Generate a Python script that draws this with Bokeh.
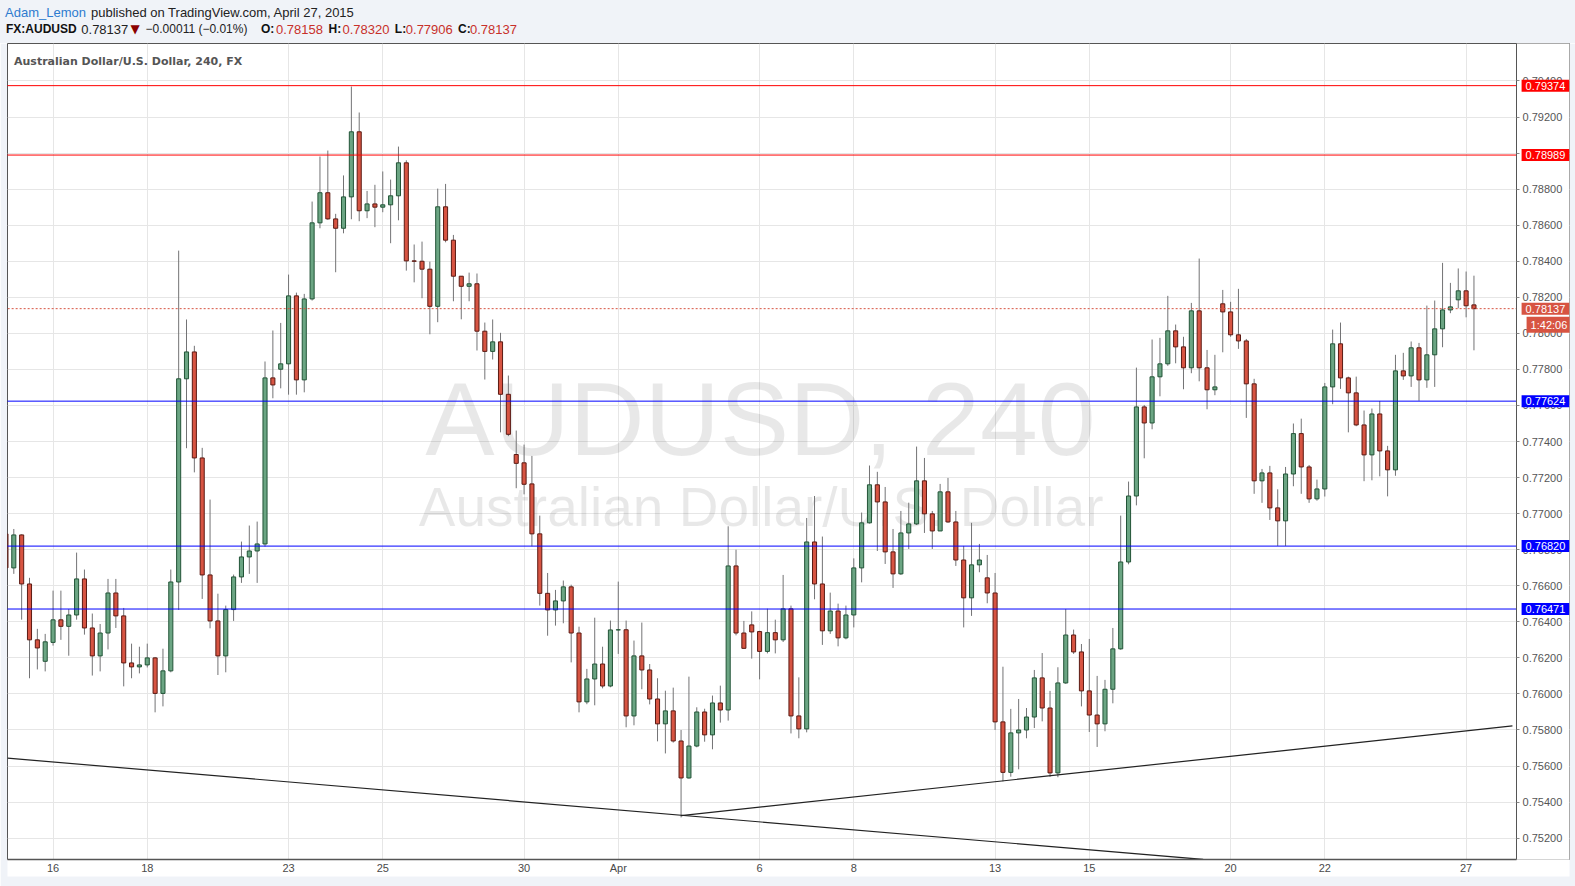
from bokeh.plotting import figure
from bokeh.layouts import column
from bokeh.models import Range1d, FixedTicker, PrintfTickFormatter, Label, Div
from bokeh.core.properties import value
from bokeh.embed import file_html
from bokeh.resources import INLINE
import numpy as np

# ---------------- data (AUDUSD 4h candles) ----------------
first_index = -1
opens = [0.76888, 0.76699, 0.76882, 0.76610, 0.76300, 0.76181, 0.76286, 0.76411, 0.76375, 0.76438,
         0.76638, 0.76366, 0.76211, 0.76338, 0.76560, 0.76433, 0.76172, 0.76150, 0.76161, 0.76200,
         0.76003, 0.76128, 0.76621, 0.77748, 0.77897, 0.77309, 0.76660, 0.76405, 0.76211, 0.76468,
         0.76649, 0.76760, 0.76793, 0.76832, 0.77753, 0.77801, 0.77831, 0.78208, 0.77742, 0.78191,
         0.78613, 0.78780, 0.78635, 0.78583, 0.78757, 0.79118, 0.78680, 0.78718, 0.78700, 0.78713,
         0.78763, 0.78946, 0.78402, 0.78400, 0.78356, 0.78150, 0.78702, 0.78517, 0.78317, 0.78261,
         0.78275, 0.78012, 0.77900, 0.77953, 0.77662, 0.77328, 0.77282, 0.77165, 0.76888, 0.76558,
         0.76466, 0.76516, 0.76594, 0.76338, 0.75956, 0.76083, 0.76166, 0.76044, 0.76355, 0.76356,
         0.75878, 0.76211, 0.76133, 0.75972, 0.75834, 0.75906, 0.75739, 0.75534, 0.75711, 0.75900,
         0.75773, 0.75950, 0.75911, 0.76710, 0.76338, 0.76383, 0.76346, 0.76236, 0.76340, 0.76300,
         0.76472, 0.75878, 0.75806, 0.76843, 0.76610, 0.76350, 0.76460, 0.76311, 0.76438, 0.76699,
         0.76949, 0.77160, 0.77065, 0.76788, 0.76666, 0.76893, 0.76943, 0.77182, 0.76999, 0.76904,
         0.77121, 0.76954, 0.76743, 0.76533, 0.76716, 0.76644, 0.76560, 0.75845, 0.75565, 0.75784,
         0.75800, 0.75872, 0.76089, 0.75922, 0.75562, 0.76061, 0.76327, 0.76233, 0.76017, 0.75883,
         0.75834, 0.76026, 0.76250, 0.76732, 0.77098, 0.77592, 0.77503, 0.77759, 0.77831, 0.78014,
         0.77925, 0.77809, 0.78125, 0.77809, 0.77687, 0.78164, 0.78119, 0.77992, 0.77958, 0.77720,
         0.77182, 0.77226, 0.77032, 0.76960, 0.77220, 0.77444, 0.77259, 0.77082, 0.77137, 0.77703,
         0.77942, 0.77753, 0.77670, 0.77492, 0.77326, 0.77553, 0.77348, 0.77243, 0.77792, 0.77764,
         0.77920, 0.77742, 0.77881, 0.78025, 0.78130, 0.78186, 0.78236, 0.78158]
highs = [0.76900, 0.76915, 0.76885, 0.76644, 0.76361, 0.76333, 0.76573, 0.76573, 0.76471, 0.76784,
         0.76690, 0.76446, 0.76388, 0.76638, 0.76638, 0.76477, 0.76279, 0.76262, 0.76279, 0.76205,
         0.76251, 0.76690, 0.78459, 0.78077, 0.77931, 0.77365, 0.77078, 0.76556, 0.76490, 0.76662,
         0.76845, 0.76934, 0.76956, 0.77844, 0.78016, 0.78058, 0.78326, 0.78226, 0.78219, 0.78731,
         0.78981, 0.79014, 0.78663, 0.78876, 0.79369, 0.79225, 0.78790, 0.78824, 0.78898, 0.78853,
         0.79036, 0.78960, 0.78493, 0.78509, 0.78398, 0.78803, 0.78829, 0.78546, 0.78317, 0.78337,
         0.78332, 0.78060, 0.78077, 0.78003, 0.77766, 0.77461, 0.77383, 0.77320, 0.76989, 0.76671,
         0.76577, 0.76629, 0.76606, 0.76373, 0.76139, 0.76423, 0.76262, 0.76407, 0.76623, 0.76407,
         0.76296, 0.76396, 0.76166, 0.76087, 0.76018, 0.76035, 0.75800, 0.76096, 0.75926, 0.75918,
         0.75991, 0.76046, 0.76930, 0.76800, 0.76405, 0.76458, 0.76350, 0.76473, 0.76412, 0.76660,
         0.76490, 0.76092, 0.76976, 0.77098, 0.76873, 0.76562, 0.76501, 0.76490, 0.76752, 0.77006,
         0.77267, 0.77232, 0.77148, 0.76915, 0.77015, 0.77061, 0.77372, 0.77309, 0.77015, 0.77165,
         0.77198, 0.77015, 0.76821, 0.76949, 0.76832, 0.76771, 0.76671, 0.76151, 0.75917, 0.75972,
         0.75922, 0.76133, 0.76227, 0.76017, 0.76148, 0.76471, 0.76357, 0.76277, 0.76305, 0.76100,
         0.76078, 0.76366, 0.76989, 0.77178, 0.77810, 0.77603, 0.77966, 0.77975, 0.78208, 0.78049,
         0.77981, 0.78169, 0.78415, 0.77908, 0.77881, 0.78241, 0.78175, 0.78247, 0.77969, 0.77748,
         0.77248, 0.77265, 0.77135, 0.77259, 0.77500, 0.77527, 0.77270, 0.77189, 0.77725, 0.78021,
         0.78060, 0.77760, 0.77760, 0.77572, 0.77583, 0.77625, 0.77376, 0.77881, 0.77892, 0.77955,
         0.77947, 0.78154, 0.78182, 0.78391, 0.78280, 0.78360, 0.78343, 0.78320]
lows = [0.76680, 0.76666, 0.76412, 0.76087, 0.76136, 0.76125, 0.76268, 0.76300, 0.76212, 0.76412,
        0.76329, 0.76102, 0.76125, 0.76247, 0.76366, 0.76042, 0.76087, 0.76114, 0.76147, 0.75898,
        0.75931, 0.76120, 0.76466, 0.77363, 0.77229, 0.76527, 0.76364, 0.76105, 0.76120, 0.76405,
        0.76616, 0.76666, 0.76616, 0.76817, 0.77640, 0.77695, 0.77660, 0.77660, 0.77673, 0.78182,
        0.78583, 0.78630, 0.78339, 0.78555, 0.78633, 0.78622, 0.78639, 0.78589, 0.78672, 0.78500,
        0.78627, 0.78348, 0.78283, 0.78195, 0.77995, 0.78062, 0.78505, 0.78178, 0.78078, 0.78178,
        0.77905, 0.77744, 0.77855, 0.77451, 0.77430, 0.77141, 0.77107, 0.76819, 0.76490, 0.76323,
        0.76379, 0.76392, 0.76175, 0.75898, 0.75943, 0.75937, 0.76031, 0.76037, 0.76222, 0.75815,
        0.75826, 0.76026, 0.75942, 0.75737, 0.75670, 0.75730, 0.75315, 0.75530, 0.75704, 0.75735,
        0.75693, 0.75841, 0.75852, 0.76325, 0.76251, 0.76196, 0.76081, 0.76225, 0.76225, 0.76288,
        0.75781, 0.75754, 0.75787, 0.76525, 0.76272, 0.76333, 0.76264, 0.76303, 0.76369, 0.76619,
        0.76945, 0.76793, 0.76721, 0.76588, 0.76660, 0.76804, 0.76937, 0.76893, 0.76804, 0.76904,
        0.76949, 0.76710, 0.76369, 0.76433, 0.76675, 0.76503, 0.75800, 0.75515, 0.75541, 0.75582,
        0.75754, 0.75811, 0.75848, 0.75540, 0.75538, 0.76056, 0.76222, 0.75931, 0.75789, 0.75706,
        0.75793, 0.75948, 0.76245, 0.76719, 0.77046, 0.77307, 0.77468, 0.77651, 0.77820, 0.77834,
        0.77690, 0.77779, 0.77734, 0.77579, 0.77657, 0.77895, 0.77981, 0.77914, 0.77531, 0.77110,
        0.77060, 0.76965, 0.76821, 0.76821, 0.77152, 0.77110, 0.77060, 0.77072, 0.77095, 0.77607,
        0.77692, 0.77451, 0.77485, 0.77180, 0.77185, 0.77207, 0.77096, 0.77210, 0.77742, 0.77703,
        0.77626, 0.77698, 0.77703, 0.77923, 0.78112, 0.78139, 0.78089, 0.77906]
closes = [0.76699, 0.76882, 0.76610, 0.76300, 0.76255, 0.76289, 0.76411, 0.76375, 0.76438, 0.76638,
          0.76366, 0.76211, 0.76338, 0.76560, 0.76433, 0.76172, 0.76150, 0.76161, 0.76200, 0.76003,
          0.76128, 0.76621, 0.77748, 0.77897, 0.77309, 0.76660, 0.76405, 0.76211, 0.76468, 0.76649,
          0.76760, 0.76793, 0.76832, 0.77753, 0.77714, 0.77831, 0.78208, 0.77742, 0.78191, 0.78613,
          0.78780, 0.78635, 0.78583, 0.78757, 0.79118, 0.78680, 0.78718, 0.78700, 0.78713, 0.78763,
          0.78946, 0.78402, 0.78400, 0.78356, 0.78150, 0.78702, 0.78517, 0.78317, 0.78261, 0.78275,
          0.78012, 0.77900, 0.77953, 0.77662, 0.77440, 0.77279, 0.77163, 0.76888, 0.76558, 0.76466,
          0.76516, 0.76594, 0.76338, 0.75956, 0.76083, 0.76166, 0.76044, 0.76355, 0.76356, 0.75878,
          0.76211, 0.76133, 0.75972, 0.75834, 0.75906, 0.75739, 0.75534, 0.75711, 0.75900, 0.75773,
          0.75950, 0.75911, 0.76710, 0.76338, 0.76253, 0.76344, 0.76236, 0.76340, 0.76300, 0.76472,
          0.75878, 0.75806, 0.76843, 0.76610, 0.76350, 0.76460, 0.76311, 0.76438, 0.76699, 0.76949,
          0.77160, 0.77065, 0.76788, 0.76666, 0.76893, 0.76943, 0.77182, 0.76999, 0.76904, 0.77121,
          0.76954, 0.76743, 0.76533, 0.76716, 0.76743, 0.76560, 0.75845, 0.75565, 0.75784, 0.75800,
          0.75872, 0.76089, 0.75922, 0.75562, 0.76061, 0.76327, 0.76233, 0.76017, 0.75883, 0.75834,
          0.76026, 0.76250, 0.76732, 0.77098, 0.77592, 0.77503, 0.77759, 0.77831, 0.78014, 0.77925,
          0.77809, 0.78125, 0.77809, 0.77687, 0.77703, 0.78119, 0.77992, 0.77958, 0.77720, 0.77182,
          0.77226, 0.77032, 0.76960, 0.77220, 0.77444, 0.77259, 0.77082, 0.77137, 0.77703, 0.77942,
          0.77753, 0.77670, 0.77492, 0.77326, 0.77553, 0.77348, 0.77243, 0.77792, 0.77764, 0.77920,
          0.77742, 0.77881, 0.78025, 0.78130, 0.78147, 0.78236, 0.78153, 0.78137]

day_tick_index = [5, 17, 35, 47, 65, 77, 95, 107, 125, 137, 155, 167, 185]
day_tick_labels = ["16", "18", "23", "25", "30", "Apr", "6", "8", "13", "15", "20", "22", "27"]
price_ticks = [0.752, 0.754, 0.756, 0.758, 0.760, 0.762, 0.764, 0.766, 0.768, 0.770, 0.772,
               0.774, 0.776, 0.778, 0.780, 0.782, 0.784, 0.786, 0.788, 0.790, 0.792, 0.794]

resistance_levels = [0.79374, 0.78989]
support_levels = [0.77624, 0.76820, 0.76471]
last_price = 0.78137
countdown_text = "1:42:06"

trend_down_x = [-0.8, 151.5]
trend_down_y = [0.75644, 0.75082]
trend_up_x = [85.0, 190.9]
trend_up_y = [0.75325, 0.75823]

watermark_lines = ["AUDUSD, 240", "Australian Dollar/U.S. Dollar"]
chart_caption = "Australian Dollar/U.S. Dollar, 240, FX"
header_line1 = ["Adam_Lemon", "published on TradingView.com, April 27, 2015"]
header_line2 = ["FX:AUDUSD", "0.78137", "\u25bc", "\u22120.00011 (\u22120.01%)", "O:", "0.78158",
                "H:", "0.78320", "L:", "0.77906", "C:", "0.78137"]

# ---------------- styling / layout ----------------
UP_FILL, UP_LINE = "#6ba583", "#225437"
DN_FILL, DN_LINE = "#d75442", "#5b1a13"
WICK = "#737375"
PAGE_BG = "#f0f3f8"
X_START, X_END = -0.8025, 198.17     # frame spans page x 7..1569
SEP_X = 191.43                      # price-scale separator (page x 1516)
Y_START, Y_END = 0.750817, 0.796078  # frame spans page y 43..859

o = np.array(opens)
h = np.array(highs)
l = np.array(lows)
c = np.array(closes)
x = np.arange(first_index, first_index + len(o))
up = c >= o

p = figure(width=1575, height=843,
           x_range=Range1d(X_START, X_END), y_range=Range1d(Y_START, Y_END),
           y_axis_location="right", toolbar_location=None, output_backend="svg",
           min_border_left=7, min_border_right=6, min_border_top=0, min_border_bottom=27,
           background_fill_color="white", border_fill_color=PAGE_BG,
           outline_line_color="#555555", outline_line_width=1)

# grid
xt = FixedTicker(ticks=day_tick_index)
yt = FixedTicker(ticks=price_ticks)
p.xgrid.ticker = xt
p.ygrid.ticker = yt
p.xgrid.grid_line_color = "#e6e6e6"
p.ygrid.grid_line_color = "#e6e6e6"

# x axis
p.xaxis.ticker = xt
p.xaxis.bounds = (X_START, SEP_X)
p.xaxis.major_label_overrides = {t: s for t, s in zip(day_tick_index, day_tick_labels)}
p.xaxis.major_tick_out = 0
p.xaxis.major_tick_in = 0
p.xaxis.minor_tick_out = 0
p.xaxis.minor_tick_in = 0
p.xaxis.major_tick_line_color = None
p.xaxis.minor_tick_line_color = None
p.xaxis.major_label_standoff = 2
p.xaxis.major_label_text_font = "Liberation Sans"
p.xaxis.major_label_text_font_size = "11px"
p.xaxis.major_label_text_color = "#4a4a4a"
p.xaxis.axis_line_color = "#555555"
p.xaxis.axis_line_width = 1.5
p.xaxis.background_fill_color = "white"

# white price-scale strip (covers the grid to the right of the separator)
p.quad(left=[SEP_X], right=[X_END + 1], bottom=[Y_START - 0.01], top=[Y_END + 0.01],
       fill_color="white", line_color=None)

# y axis drawn at the separator, labels to its right
p.yaxis.fixed_location = SEP_X
p.yaxis.ticker = yt
p.yaxis.formatter = PrintfTickFormatter(format="%.5f")
p.yaxis.major_tick_out = 3
p.yaxis.major_tick_in = 0
p.yaxis.minor_tick_out = 0
p.yaxis.minor_tick_in = 0
p.yaxis.minor_tick_line_color = None
p.yaxis.major_tick_line_color = "#888888"
p.yaxis.major_label_standoff = 3
p.yaxis.major_label_text_font = "Liberation Sans"
p.yaxis.major_label_text_font_size = "11px"
p.yaxis.major_label_text_color = "#555555"
p.yaxis.axis_line_color = "#555555"

# watermark
p.text(x=[95.1, 95.2], y=[0.77525, 0.77035], text=watermark_lines,
       text_font=value("Liberation Sans"), text_font_size=["104px", "55px"],
       text_color="#000000", text_alpha=0.09, text_align="center", text_baseline="alphabetic")

# candles
p.segment(x0=x, y0=l, x1=x, y1=h, line_color=WICK, line_width=1)
p.vbar(x=x, width=0.52, top=np.maximum(o, c), bottom=np.minimum(o, c),
       fill_color=[UP_FILL if u else DN_FILL for u in up],
       line_color=[UP_LINE if u else DN_LINE for u in up], line_width=1)

# trend lines
p.line(trend_down_x, trend_down_y, line_color="#222222", line_width=1.2)
p.line(trend_up_x, trend_up_y, line_color="#222222", line_width=1.2)

# horizontal levels (stop at the price scale)
nr, ns = len(resistance_levels), len(support_levels)
p.segment(x0=[X_START - 1] * nr, x1=[SEP_X] * nr, y0=resistance_levels, y1=resistance_levels,
          line_color="#ff0000", line_width=1)
p.segment(x0=[X_START - 1] * ns, x1=[SEP_X] * ns, y0=support_levels, y1=support_levels,
          line_color="#0000ff", line_width=1)
p.segment(x0=[X_START - 1], x1=[SEP_X], y0=[last_price], y1=[last_price],
          line_color="#d75442", line_width=1, line_dash="2 2")

# price boxes on the scale
def axis_box(text, price, color, dx=5, dy=0):
    p.add_layout(Label(x=SEP_X, y=price, x_units="data", y_units="data",
                       x_offset=dx, y_offset=dy, text=text, text_color="white",
                       text_font="Liberation Sans", text_font_size="11px",
                       text_align="left", text_baseline="middle",
                       background_fill_color=color, padding=dict(x=4, y=2)))

for lv in resistance_levels:
    axis_box(f"{lv:.5f}", lv, "#ff0000")
for lv in support_levels:
    axis_box(f"{lv:.5f}", lv, "#0000ff")
axis_box(f"{last_price:.5f}", last_price, "#d75442")
axis_box(countdown_text, last_price, "#d75442", dx=10, dy=-16)

# caption inside the chart (frame-relative screen units)
p.add_layout(Label(x=6.5, y=798.5, x_units="screen", y_units="screen", text=chart_caption,
                   text_font="DejaVu Sans", text_font_style="bold", text_font_size="11px",
                   text_color="#555555", text_baseline="alphabetic"))

# ---------------- header (published-by line and OHLC line) ----------------
RED = "#c8302a"
DARK = "#222222"
line1_x = [5, 91]
line1_style = [("normal", "#2e7bcf", 13, "Liberation Sans"),
               ("normal", DARK, 13, "Liberation Sans")]
line2_x = [6, 81.3, 130.6, 145.6, 261, 276, 328.5, 342.5, 394.8, 405.8, 458, 470]
line2_style = [("bold", "#111111", 12, "Liberation Sans"),
               ("normal", DARK, 13, "Liberation Sans"),
               ("normal", "#8b0000", 12, "DejaVu Sans"),
               ("normal", DARK, 12, "Liberation Sans"),
               ("bold", "#111111", 12, "Liberation Sans"),
               ("normal", RED, 13, "Liberation Sans"),
               ("bold", "#111111", 12, "Liberation Sans"),
               ("normal", RED, 13, "Liberation Sans"),
               ("bold", "#111111", 12, "Liberation Sans"),
               ("normal", RED, 13, "Liberation Sans"),
               ("bold", "#111111", 12, "Liberation Sans"),
               ("normal", RED, 13, "Liberation Sans")]

def spans(texts, xs, styles, baseline):
    out = []
    for t, xp, (fw, col, size, font) in zip(texts, xs, styles):
        top = baseline - 0.8465 * size
        out.append(f'<span style="position:absolute;left:{xp}px;top:{top:.1f}px;'
                   f'font-family:\'{font}\';font-size:{size}px;line-height:{size}px;'
                   f'font-weight:{fw};color:{col};white-space:nowrap;">{t}</span>')
    return "".join(out)

header_html = ('<div style="position:relative;width:1575px;height:43px;margin:0;padding:0;'
               f'background:{PAGE_BG};">'
               + spans(header_line1, line1_x, line1_style, 16.6)
               + spans(header_line2, line2_x, line2_style, 33.6)
               + '</div>')
header = Div(text=header_html, width=1575, height=43,
             styles={"background-color": PAGE_BG, "margin": "0", "padding": "0"})

layout = column(header, p, spacing=0)
open("out.html", "w").write(file_html(layout, INLINE))
